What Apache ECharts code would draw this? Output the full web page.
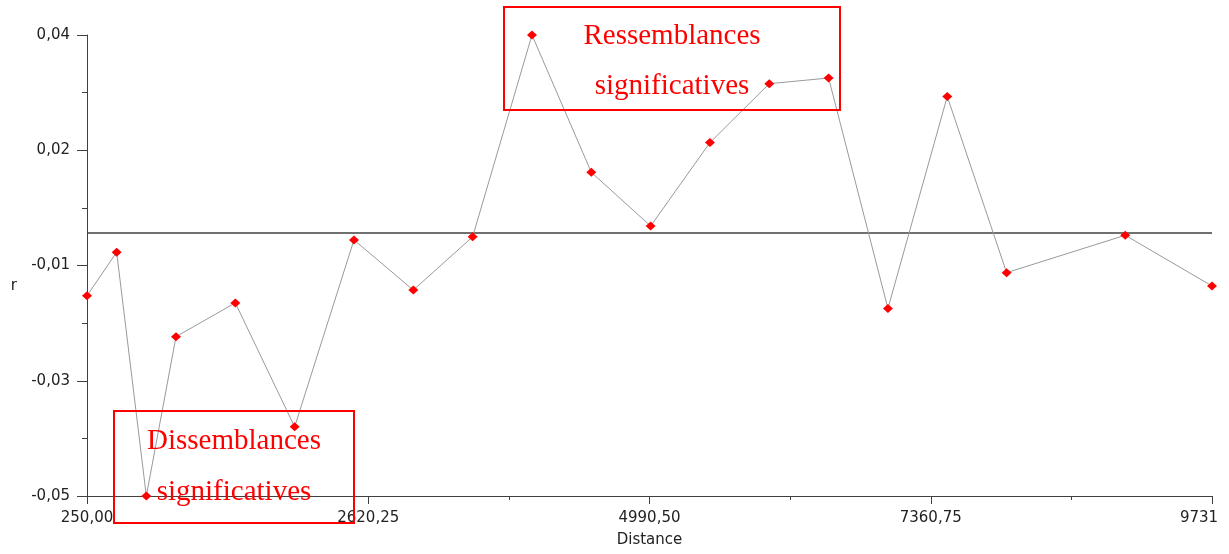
<!DOCTYPE html>
<html>
<head>
<meta charset="utf-8">
<script src="https://cdn.jsdelivr.net/npm/echarts@6/dist/echarts.min.js"></script>
<style>
html,body{margin:0;padding:0;background:#fff;}
#chart{width:1229px;height:554px;}
</style>
</head>
<body>
<div id="chart"></div>
<script>
// Data
const distances = [250, 500, 750, 1000, 1500, 2000, 2500, 3000, 3500, 4000, 4500, 5000, 5500, 6000, 6500, 7000, 7500, 8000, 9000, 9731];
const rValues = [-0.0109, -0.0024, -0.0500, -0.0189, -0.0123, -0.0365, 0.0000, -0.0098, 0.0006, 0.0400, 0.0132, 0.0027, 0.0190, 0.0305, 0.0316, -0.0134, 0.0280, -0.0064, 0.0009, -0.0090];
const referenceLine = 0.0013;

// Axis ticks and labels
const xTickValues = [250, 2620.25, 4990.5, 7360.75, 9731];
const xTickLabels = ['250,00', '2620,25', '4990,50', '7360,75', '9731'];
const xMinorTicks = [250, 1435.125, 2620.25, 3805.375, 4990.5, 6175.625, 7360.75, 8545.875, 9731];
const yTickValues = [-0.05, -0.0275, -0.005, 0.0175, 0.04];
const yTickLabels = ['-0,05', '-0,03', '-0,01', '0,02', '0,04'];
const yMinorTicks = [-0.05, -0.03875, -0.0275, -0.01625, -0.005, 0.00625, 0.0175, 0.02875, 0.04];

const xName = 'Distance';
const yName = 'r';
const noteTop = 'Ressemblances\nsignificatives';
const noteBottom = 'Dissemblances\nsignificatives';

function lookup(values, labels, v) {
  for (let i = 0; i < values.length; i++) {
    if (Math.abs(values[i] - v) < 1e-6 * Math.max(1, Math.abs(values[i]))) return labels[i];
  }
  return '';
}

const axisColor = '#404040';
const labelFont = 'DejaVu Sans';

const chart = echarts.init(document.getElementById('chart'), null, {renderer: 'canvas'});
chart.setOption({
  animation: false,
  backgroundColor: '#ffffff',
  grid: {left: 87, right: 17, top: 35, bottom: 58, containLabel: false},
  xAxis: [{
    type: 'value',
    min: 250, max: 9731,
    name: xName,
    nameLocation: 'middle',
    nameGap: 37,
    nameTextStyle: {fontFamily: labelFont, fontSize: 15, color: '#222'},
    axisLine: {show: true, onZero: false, lineStyle: {color: axisColor, width: 1}},
    axisTick: {show: true, length: 8, customValues: xTickValues, lineStyle: {color: axisColor}},
    axisLabel: {
      show: true, customValues: xTickValues, margin: 15,
      fontFamily: labelFont, fontSize: 15, color: '#222',
      formatter: function (v) {
        const s = lookup(xTickValues, xTickLabels, v);
        return v === xTickValues[xTickValues.length - 1] ? '{last|' + s + '}' : s;
      },
      rich: {last: {fontFamily: labelFont, fontSize: 15, color: '#222', padding: [0, 26, 0, 0]}}
    },
    splitLine: {show: false}
  }, {
    type: 'value',
    min: 250, max: 9731,
    position: 'bottom',
    axisLine: {show: false, onZero: false},
    axisTick: {show: true, length: 4, customValues: xMinorTicks, lineStyle: {color: axisColor}},
    axisLabel: {show: false},
    splitLine: {show: false}
  }],
  yAxis: [{
    type: 'value',
    min: -0.05, max: 0.04,
    name: yName,
    nameLocation: 'middle',
    nameRotate: 0,
    nameGap: 70,
    nameTextStyle: {fontFamily: labelFont, fontSize: 15, color: '#222', verticalAlign: 'top', padding: [13, 0, 0, 0]},
    axisLine: {show: true, onZero: false, lineStyle: {color: axisColor, width: 1}},
    axisTick: {show: true, length: 10, customValues: yTickValues, lineStyle: {color: axisColor}},
    axisLabel: {
      show: true, customValues: yTickValues, margin: 17,
      fontFamily: labelFont, fontSize: 15, color: '#222',
      formatter: function (v) { return lookup(yTickValues, yTickLabels, v); }
    },
    splitLine: {show: false}
  }, {
    type: 'value',
    min: -0.05, max: 0.04,
    position: 'left',
    axisLine: {show: false, onZero: false},
    axisTick: {show: true, length: 5, customValues: yMinorTicks, lineStyle: {color: axisColor}},
    axisLabel: {show: false},
    splitLine: {show: false}
  }],
  series: [{
    type: 'line',
    xAxisIndex: 0,
    yAxisIndex: 0,
    data: distances.map((d, i) => [d, rValues[i]]),
    symbol: 'diamond',
    symbolSize: [10, 9],
    showAllSymbol: true,
    clip: false,
    itemStyle: {color: '#ff0000'},
    lineStyle: {color: '#9a9a9a', width: 1},
    z: 3,
    markLine: {
      silent: true,
      precision: 6,
      symbol: ['none', 'none'],
      label: {show: false},
      lineStyle: {color: axisColor, width: 1.5, type: 'solid'},
      data: [{yAxis: referenceLine}],
      z: 2
    }
  }],
  graphic: [
    {type: 'rect', z: 10, shape: {x: 504, y: 7, width: 336, height: 103},
     style: {fill: 'none', stroke: '#ff0000', lineWidth: 2}},
    {type: 'text', z: 10, x: 672, y: 61, style: {text: noteTop, fill: '#ff0000', font: '29px "Liberation Serif", "Times New Roman", serif', align: 'center', verticalAlign: 'middle', lineHeight: 50}},
    {type: 'rect', z: 10, shape: {x: 114, y: 411, width: 240, height: 112},
     style: {fill: 'none', stroke: '#ff0000', lineWidth: 2}},
    {type: 'text', z: 10, x: 234, y: 467, style: {text: noteBottom, fill: '#ff0000', font: '29px "Liberation Serif", "Times New Roman", serif', align: 'center', verticalAlign: 'middle', lineHeight: 51}}
  ]
});
</script>
</body>
</html>
